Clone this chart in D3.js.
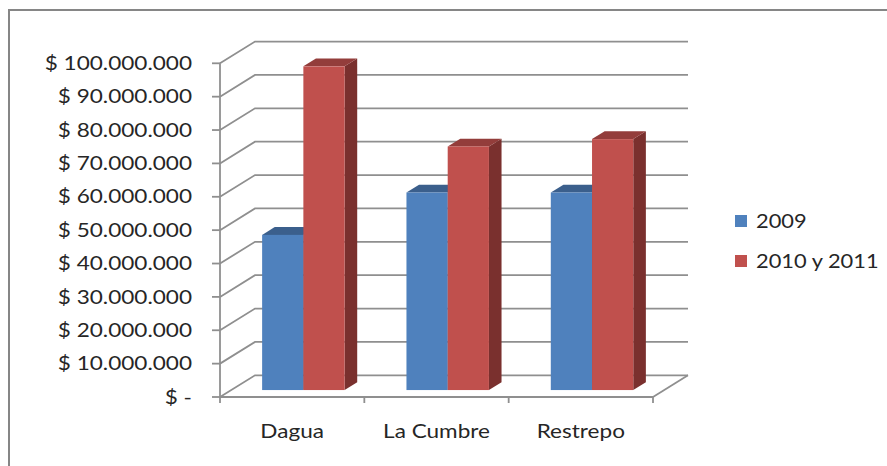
<!DOCTYPE html>
<html>
<head>
<meta charset="utf-8">
<script src="https://cdn.jsdelivr.net/npm/d3@7"></script>
<style>
  html, body { margin: 0; padding: 0; background: #fff; }
  svg { display: block; }
  text { font-family: Lato, "Open Sans", sans-serif; fill: #262626; }
</style>
</head>
<body>
<svg id="chart" width="887" height="466"></svg>
<script>
const categories = ["Dagua", "La Cumbre", "Restrepo"];
const series = ["2009", "2010 y 2011"];
const values2009 = [46.5e6, 59.2e6, 59.2e6];
const values2010y2011 = [97.0e6, 73.0e6, 75.2e6];
const yTickValues = [0, 10e6, 20e6, 30e6, 40e6, 50e6, 60e6, 70e6, 80e6, 90e6, 100e6];
const yTickLabels = ["$ -", "$ 10.000.000", "$ 20.000.000", "$ 30.000.000", "$ 40.000.000",
  "$ 50.000.000", "$ 60.000.000", "$ 70.000.000", "$ 80.000.000", "$ 90.000.000", "$ 100.000.000"];

const colors = {
  "2009": { front: "#4F81BD", top: "#3B5F8C", side: "#2F4D72" },
  "2010 y 2011": { front: "#C0504D", top: "#933D3B", side: "#7A302E" }
};

const svg = d3.select("#chart");
const W = 887, H = 466;
const TX = 1.22;  // horizontal text stretch (axes)
const TXL = 1.18; // horizontal text stretch (legend)

// plot geometry
const DX = 35, DY = -21.7;   // depth offset of back wall
const F0 = 0.32, F1 = 0.68;  // bar depth range

const x = d3.scaleBand().domain(categories).range([220, 653]).paddingInner(0).paddingOuter(0);
const xs = d3.scaleBand().domain(series).range([0, x.bandwidth()]).paddingInner(0).paddingOuter(0.75);
const y = d3.scaleLinear().domain([0, 100e6]).range([397, 63.3]);
const P = (px, py, f) => [px + DX * f, py + DY * f];
const line = d3.line();

// outer border
svg.append("rect").attr("x", 9).attr("y", 10).attr("width", W).attr("height", H)
  .attr("fill", "#fff").attr("stroke", "#868686").attr("stroke-width", 2);

const grid = svg.append("g").attr("fill", "none").attr("stroke", "#8f8f8f").attr("stroke-width", 1.8);
const [xL, xR] = x.range();

// gridlines on side and back walls
yTickValues.forEach(t => {
  grid.append("path").attr("d", line([P(xL, y(t), 0), P(xL, y(t), 1), P(xR, y(t), 1)]));
});
// floor right edge and front baseline
grid.append("path").attr("d", line([P(xR, y(0), 0), P(xR, y(0), 1)]));
grid.append("path").attr("d", line([[xL, y(0)], [xR, y(0)]]));
// vertical axis
grid.append("path").attr("d", line([[xL, y(100e6)], [xL, y(0)]]));
// y ticks
yTickValues.forEach(t => {
  grid.append("path").attr("d", line([[xL - 8, y(t)], [xL, y(t)]]));
});
// category ticks
const catEdges = categories.map(c => x(c)).concat([xR]);
catEdges.forEach(cx => {
  grid.append("path").attr("d", line([[cx, y(0)], [cx, y(0) + 6]]));
});

// bars
const data = [];
categories.forEach((c, i) => {
  data.push({ cat: c, ser: "2009", val: values2009[i] });
  data.push({ cat: c, ser: "2010 y 2011", val: values2010y2011[i] });
});
const bars = svg.append("g");
data.forEach(d => {
  const xl = x(d.cat) + xs(d.ser), xr = xl + xs.bandwidth();
  const yt = y(d.val), yb = y(0);
  const col = colors[d.ser];
  const g = bars.append("g");
  g.append("path").attr("fill", col.side)
    .attr("d", line([P(xr, yt, F0), P(xr, yb, F0), P(xr, yb, F1), P(xr, yt, F1)]) + "Z");
  g.append("path").attr("fill", col.top)
    .attr("d", line([P(xl, yt, F0), P(xr, yt, F0), P(xr, yt, F1), P(xl, yt, F1)]) + "Z");
  const [fx, fy] = P(xl, yt, F0);
  const [, fyb] = P(xl, yb, F0);
  g.append("rect").attr("x", fx).attr("y", fy).attr("width", xr - xl).attr("height", fyb - fy)
    .attr("fill", col.front);
});

// y-axis labels
yTickValues.forEach((t, i) => {
  svg.append("g").attr("transform", `translate(192,${y(t)}) scale(${TX},1)`)
    .append("text").attr("text-anchor", "end").attr("dy", "0.36em")
    .attr("font-size", 18.5).text(yTickLabels[i]);
});

// category labels
categories.forEach(c => {
  svg.append("g").attr("transform", `translate(${x(c) + x.bandwidth() / 2},431) scale(${TX},1)`)
    .append("text").attr("text-anchor", "middle").attr("dy", "0.36em")
    .attr("font-size", 18.5).text(c);
});

// legend
const legY = [221, 261];
series.forEach((s, i) => {
  svg.append("rect").attr("x", 735).attr("y", legY[i] - 6).attr("width", 12).attr("height", 12)
    .attr("fill", colors[s].front);
  svg.append("g").attr("transform", `translate(756,${legY[i]}) scale(${TXL},1)`)
    .append("text").attr("dy", "0.36em").attr("font-size", 18.5).text(s);
});
</script>
</body>
</html>
